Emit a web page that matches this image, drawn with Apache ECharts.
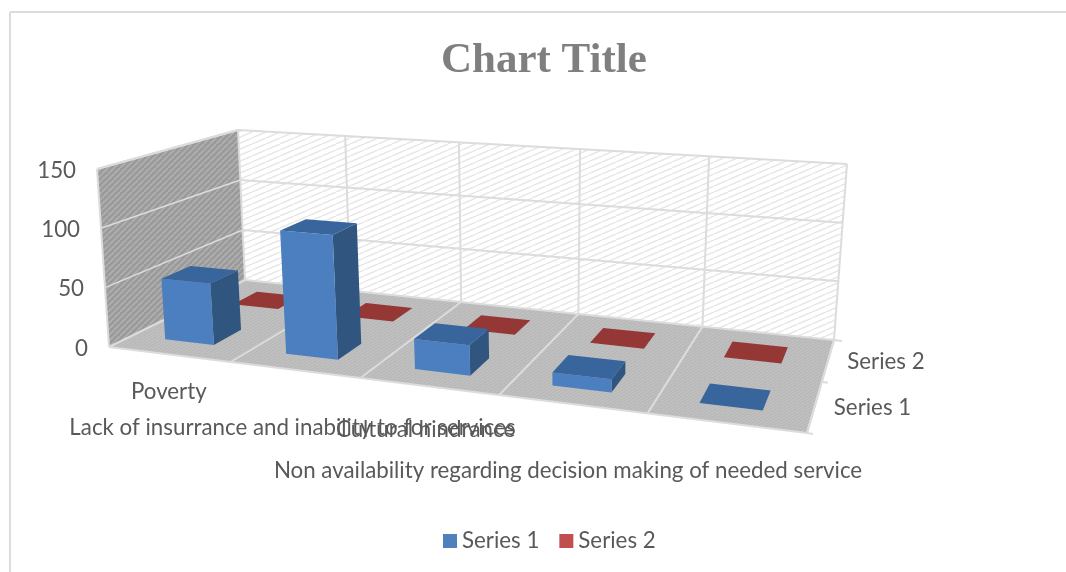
<!DOCTYPE html>
<html>
<head>
<meta charset="utf-8">
<title>Chart Title</title>
<script src="https://cdn.jsdelivr.net/npm/echarts@6/dist/echarts.min.js"></script>
<style>
html,body{margin:0;padding:0;background:#fff;}
#main{width:1066px;height:572px;}
</style>
</head>
<body>
<div id="main"></div>
<script>
var categories = ['Poverty', 'Lack of insurrance and inability to for services', 'Cultural hindrance', 'Non availability regarding decision making of needed service', ''];
var series1 = [52, 102, 24, 10, 0];
var series2 = [0, 0, 0, 0, 0];
var seriesNames = ['Series 1', 'Series 2'];
var yTicks = [0, 50, 100, 150];

// box corners on screen
var floorQuad = [[109, 347], [807, 433], [834, 340], [245, 280]];
var topQuad = [[97, 169], [816.5, 219], [847, 164], [238, 130]];
var TEXT = '#595959';
var FONT = 'Lato';
var FONT_SIZE = 22.3;
var LINE = '#dcdcdc';
// rows the category labels fall on, and a small nudge sideways
var labelDrop = [37, 58, 43, 67, 0];
var labelNudge = [0, -2, -3, -4, 0];

function quadMap(q){
	var dx1 = q[1][0]-q[2][0], dx2 = q[3][0]-q[2][0], sx = q[0][0]-q[1][0]+q[2][0]-q[3][0];
	var dy1 = q[1][1]-q[2][1], dy2 = q[3][1]-q[2][1], sy = q[0][1]-q[1][1]+q[2][1]-q[3][1];
	var den = dx1*dy2-dx2*dy1;
	var g = (sx*dy2-dx2*sy)/den, h = (dx1*sy-sx*dy1)/den;
	var a = q[1][0]-q[0][0]+g*q[1][0], b = q[3][0]-q[0][0]+h*q[3][0];
	var d = q[1][1]-q[0][1]+g*q[1][1], e = q[3][1]-q[0][1]+h*q[3][1];
	return function(u, v){
		var w = g*u+h*v+1;
		return [(a*u+b*v+q[0][0])/w, (d*u+e*v+q[0][1])/w];
	};
}
var floorAt = quadMap(floorQuad), topAt = quadMap(topQuad);

// u along categories, v into the depth, t up the value axis (all 0..1)
function project(u, v, t){
	var f = floorAt(u, v), c = topAt(u, v);
	return [f[0]+(c[0]-f[0])*t, f[1]+(c[1]-f[1])*t];
}

function hatch(w, h, base, stroke, lw){
	var c = document.createElement('canvas');
	c.width = w; c.height = h;
	var x = c.getContext('2d');
	x.fillStyle = base;
	x.fillRect(0, 0, w, h);
	x.strokeStyle = stroke;
	x.lineWidth = lw;
	[[-w, 0], [0, 0], [w, 0]].forEach(function(o){
		x.beginPath();
		x.moveTo(o[0], h);
		x.lineTo(o[0]+w, 0);
		x.stroke();
	});
	return {image: c, repeat: 'repeat'};
}
var backFill = hatch(14, 6, '#ffffff', '#e6e6e6', 1.5);
var sideFill = hatch(6, 6, '#999999', '#aeaeae', 2);
var floorFill = hatch(5, 3, '#b9b9b9', '#c6c6c6', 0.8);

function poly(points, fill){
	return {type: 'polygon', shape: {points: points}, style: {fill: fill}};
}
function seg(a, b, w){
	return {type: 'line', shape: {x1: a[0], y1: a[1], x2: b[0], y2: b[1]}, style: {stroke: LINE, lineWidth: w || 2}};
}
function label(text, x, y, align){
	return {type: 'text', style: {text: text, x: x, y: y, align: align, verticalAlign: 'middle', fill: TEXT, fontFamily: FONT, fontSize: FONT_SIZE}};
}

function fractions(api, params, cat, value){
	var g = params.coordSys, p = api.coord([cat, value]);
	return {u: (p[0]-g.x)/g.width, t: (g.y+g.height-p[1])/g.height, du: api.size([1, 0])[0]/g.width};
}

function renderBackdrop(params, api){
	var kids = [
		poly([project(0,1,0), project(1,1,0), project(1,1,1), project(0,1,1)], backFill),
		poly([project(0,0,0), project(0,1,0), project(0,1,1), project(0,0,1)], sideFill),
		poly([project(0,0,0), project(1,0,0), project(1,1,0), project(0,1,0)], floorFill)
	];
	yTicks.forEach(function(tick){
		var t = fractions(api, params, 0, tick).t;
		kids.push(seg(project(0,0,t), project(0,1,t), tick === 0 || t === 1 ? 2 : 1.5));
		kids.push(seg(project(0,1,t), project(1,1,t)));
		var a = project(0,0,t);
		kids.push(label(String(tick), a[0]-21, a[1]+1.5, 'right'));
	});
	categories.forEach(function(name, i){
		var f = fractions(api, params, i, 0);
		var u = f.u+f.du/2;
		kids.push(seg(project(u,0,0), project(u,1,0)));
		kids.push(seg(project(u,1,0), project(u,1,1)));
		var c = project(f.u, 0, 0);
		if(name) kids.push(label(name, c[0]+labelNudge[i], c[1]+labelDrop[i], 'center'));
	});
	kids.push(seg(project(0,0,0), project(1,0,0)));
	kids.push(seg(project(1,0,0), project(1,1,0)));
	kids.push(seg(project(0,0,0), project(0,0,1)));
	kids.push(seg(project(0,1,0), project(0,1,1)));
	kids.push(seg(project(0,0,1), project(0,1,1)));
	seriesNames.forEach(function(name, s){
		var v = (s+0.5)/seriesNames.length;
		var e = project(1, v, 0);
		kids.push(label(name, e[0]+19, e[1]+2, 'left'));
		var n = project(1, s/seriesNames.length, 0);
		kids.push(seg(n, [n[0]+6, n[1]+1]));
	});
	var end = project(1,1,0);
	kids.push(seg(end, [end[0]+8, end[1]+1]));
	return {type: 'group', children: kids};
}

function barRenderer(slot, front, side, lid){
	return function(params, api){
		var f = fractions(api, params, api.value(0), api.value(1));
		// bars sit a hair left of the category centre
		var mid = f.u-0.003;
		var u0 = mid-f.du*0.205, u1 = mid+f.du*0.205;
		var v0 = (slot+0.3)/seriesNames.length, v1 = (slot+0.7)/seriesNames.length;
		var t = f.t;
		return {type: 'group', children: [
			poly([project(u1,v0,0), project(u1,v1,0), project(u1,v1,t), project(u1,v0,t)], side),
			poly([project(u0,v0,0), project(u1,v0,0), project(u1,v0,t), project(u0,v0,t)], front),
			poly([project(u0,v0,t), project(u1,v0,t), project(u1,v1,t), project(u0,v1,t)], lid)
		]};
	};
}
function rows(values){
	return values.map(function(v, i){ return [i, v]; });
}

var chart = echarts.init(document.getElementById('main'));
chart.setOption({
	animation: false,
	backgroundColor: '#fff',
	title: {
		text: 'Chart Title',
		left: 436,
		top: 34,
		textStyle: {fontFamily: 'Liberation Serif', fontWeight: 'bold', fontSize: 43, color: '#7f7f7f'}
	},
	legend: {
		data: seriesNames,
		left: 438,
		top: 525,
		icon: 'rect',
		itemWidth: 14,
		itemHeight: 14,
		itemGap: 20,
		textStyle: {fontFamily: FONT, fontSize: FONT_SIZE, color: TEXT}
	},
	graphic: [
		{type: 'line', silent: true, shape: {x1: 10, y1: 12, x2: 10, y2: 572}, style: {stroke: LINE, lineWidth: 2}},
		{type: 'line', silent: true, shape: {x1: 10, y1: 12, x2: 1066, y2: 12}, style: {stroke: LINE, lineWidth: 2}}
	],
	grid: {left: 109, top: 169, width: 698, height: 178},
	xAxis: {type: 'category', data: categories, show: false},
	yAxis: {type: 'value', min: 0, max: 150, interval: 50, show: false},
	series: [
		{type: 'custom', name: 'backdrop', silent: true, clip: false, data: [[0, 0]], renderItem: renderBackdrop},
		{type: 'custom', name: seriesNames[1], clip: false, itemStyle: {color: '#c0504d'}, data: rows(series2), renderItem: barRenderer(1, '#c0504d', '#8c3a38', '#953735')},
		{type: 'custom', name: seriesNames[0], clip: false, itemStyle: {color: '#4f81bd'}, data: rows(series1), renderItem: barRenderer(0, '#4c7fbf', '#30557f', '#38659c')}
	]
});
</script>
</body>
</html>
